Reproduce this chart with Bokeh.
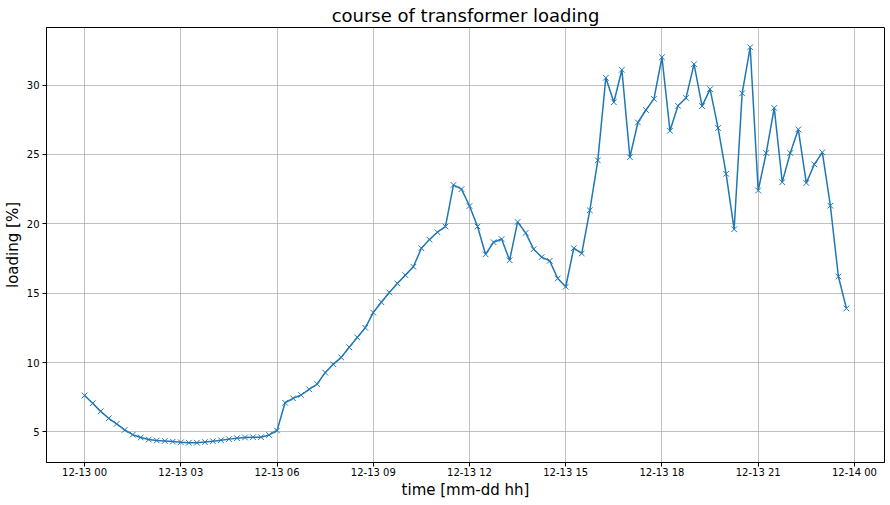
import pandas as pd
from bokeh.plotting import figure
from bokeh.models import Range1d, FixedTicker, DatetimeTickFormatter, ColumnDataSource
from bokeh.embed import file_html
from bokeh.resources import INLINE

# ---- data ----
start_time = "2023-12-13 00:00"
n_points = 96
loading = [
    7.63, 7.06, 6.48, 5.98, 5.58, 5.14, 4.80, 4.60, 4.45, 4.38,
    4.35, 4.30, 4.25, 4.22, 4.22, 4.27, 4.33, 4.40, 4.48, 4.55,
    4.60, 4.62, 4.62, 4.78, 5.10, 7.10, 7.42, 7.66, 8.07, 8.45,
    9.27, 9.87, 10.37, 11.10, 11.81, 12.50, 13.60, 14.35, 15.05, 15.70,
    16.30, 16.90, 18.24, 18.86, 19.39, 19.80, 22.80, 22.50, 21.28, 19.80,
    17.80, 18.67, 18.90, 17.37, 20.13, 19.34, 18.17, 17.60, 17.33, 16.06,
    15.46, 18.24, 17.86, 20.97, 24.57, 30.52, 28.76, 31.10, 24.80, 27.30,
    28.20, 29.00, 32.00, 26.70, 28.50, 29.07, 31.50, 28.48, 29.70, 26.90,
    23.60, 19.60, 29.40, 32.72, 22.40, 25.10, 28.35, 23.00, 25.10, 26.80,
    22.94, 24.28, 25.15, 21.30, 16.20, 13.90,
]
x_tick_hours = [0, 3, 6, 9, 12, 15, 18, 21, 24]
y_ticks = [5, 10, 15, 20, 25, 30]
title_text = "course of transformer loading"
x_label = "time [mm-dd hh]"
y_label = "loading [%]"

times = pd.date_range(start_time, periods=n_points, freq="15min")
src = ColumnDataSource(dict(t=times, y=loading))

t0 = pd.Timestamp(start_time)
span = times[-1] - times[0]
pad = span * 0.05
ymin, ymax = min(loading), max(loading)
ypad = (ymax - ymin) * 0.05

def ms(ts):
    return ts.value / 1e6

p = figure(
    width=890, height=505,
    x_axis_type="datetime",
    output_backend="svg", toolbar_location=None,
    x_range=Range1d(ms(times[0] - pad), ms(times[-1] + pad)),
    y_range=Range1d(ymin - ypad, ymax + ypad),
    min_border_left=46, min_border_right=6, min_border_top=27, min_border_bottom=43,
    title=title_text,
)
p.background_fill_color = "white"
p.border_fill_color = "white"
p.outline_line_color = "black"
p.outline_line_width = 1

p.title.align = "center"
p.title.text_font = "DejaVu Sans"
p.title.text_font_size = "18px"
p.title.text_font_style = "normal"
p.title.text_color = "black"
p.title.standoff = 4

p.line("t", "y", source=src, line_color="#1f77b4", line_width=1.5)
p.scatter("t", "y", source=src, marker="x", size=8, line_color="#1f77b4", line_width=1)

p.xaxis.ticker = FixedTicker(ticks=[ms(t0 + pd.Timedelta(hours=h)) for h in x_tick_hours])
fmt = "%m-%d %H"
p.xaxis.formatter = DatetimeTickFormatter(
    milliseconds=fmt, seconds=fmt, minsec=fmt, minutes=fmt, hourmin=fmt,
    hours=fmt, days=fmt, months=fmt, years=fmt,
)
p.yaxis.ticker = FixedTicker(ticks=y_ticks)

p.xaxis.axis_label = x_label
p.yaxis.axis_label = y_label
for ax in (p.xaxis, p.yaxis):
    ax.axis_label_text_font = "DejaVu Sans"
    ax.axis_label_text_font_size = "15px"
    ax.axis_label_text_font_style = "normal"
    ax.axis_label_text_color = "black"
    ax.major_label_text_font = "DejaVu Sans"
    ax.major_label_text_font_size = "10px"
    ax.major_label_text_color = "black"
    ax.major_tick_out = 4
    ax.major_tick_in = 0
    ax.minor_tick_out = 0
    ax.minor_tick_in = 0
    ax.axis_line_color = "black"
    ax.major_tick_line_color = "black"
p.xaxis.major_label_standoff = 0
p.xaxis.axis_label_standoff = 0
p.yaxis.major_label_standoff = 3
p.yaxis.axis_label_standoff = 2

p.grid.grid_line_color = "#b0b0b0"
p.grid.grid_line_width = 0.8

open("out.html", "w").write(file_html(p, INLINE))
